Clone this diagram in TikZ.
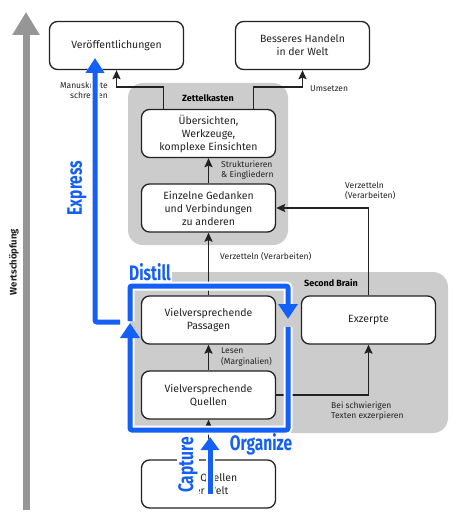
\documentclass[tikz,border=0pt]{standalone}
\usepackage{fontspec}
\setmainfont{Fira Sans}
\newfontfamily\narrowfont[FakeStretch=0.74]{Fira Sans}
\usetikzlibrary{arrows.meta}
\definecolor{pkmblue}{RGB}{20,95,245}
\definecolor{areagray}{RGB}{204,204,204}
\definecolor{valuegray}{RGB}{150,150,150}
\definecolor{ink}{RGB}{34,34,34}

\begin{document}
\begin{tikzpicture}[x=1pt,y=-1pt,
	box/.style={draw=ink,line width=1.3pt,fill=white,rounded corners=8pt,minimum width=134pt,minimum height=48pt,align=center,text=ink,font=\fontsize{10.5}{13}\selectfont,inner sep=2pt},
	area/.style={fill=areagray,rounded corners=15pt},
	flow/.style={ink,line width=1.8pt,-{Stealth[length=9pt,width=8pt,inset=1.5pt]}},
	lbl/.style={text=ink,font=\fontsize{8.5}{10.5}\selectfont,align=left,inner sep=0pt},
	arealbl/.style={text=black,font=\bfseries\fontsize{9}{10}\selectfont,inner sep=0pt},
	blueflow/.style={pkmblue,line width=5pt,rounded corners=2pt,preaction={draw=white,line width=9pt}},
	bluelbl/.style={text=pkmblue,font=\narrowfont\bfseries\fontsize{21}{24}\selectfont,inner sep=1pt}]

	\useasboundingbox (0,0) rectangle (474,526);

	\fill[area] (128,83) rectangle (288,245);
	\fill[area] (130,272) rectangle (448,433);
	\node[arealbl] (zk) at (208,98) {Zettelkasten};
	\node[arealbl] (sb) at (331,283) {Second Brain};

	\coordinate (vbot) at (26,510);
	\coordinate (vtop) at (26,12);
	\draw[valuegray,line width=7pt,-{Triangle[length=23pt,width=26pt]}] (vbot) -- (vtop);
	\node[rotate=90,text=ink,font=\bfseries\fontsize{9.5}{11}\selectfont] (ws) at (14,262) {Wertschöpfung};

	\node[box] (pub)   at (116.5,45.5) {Veröffentlichungen};
	\node[box] (act)   at (302.5,45.5) {Besseres Handeln\\in der Welt};
	\node[box] (over)  at (208.5,133.5) {Übersichten,\\Werkzeuge,\\komplexe Einsichten};
	\node[box] (ideas) at (208.5,208) {Einzelne Gedanken\\und Verbindungen\\zu anderen};
	\node[box] (pass)  at (208.5,320) {Vielversprechende\\Passagen};
	\node[box] (src)   at (208.5,395) {Vielversprechende\\Quellen};
	\node[box] (exc)   at (368.5,320) {Exzerpte};
	\node[box] (world) at (208.5,484) {Alle Quellen\\der Welt};

	\draw[flow] ([xshift=-45pt]over.north) -- ++(0,-22) -| (pub.south);
	\draw[flow] ([xshift=45pt]over.north) -- ++(0,-22) -| (act.south);
	\draw[flow] (ideas.north) -- (over.south);
	\draw[flow] (pass.north) -- (ideas.south);
	\draw[flow] (exc.north) |- (ideas.east);
	\draw[flow] (src.north) -- (pass.south);
	\draw[flow] (src.east) -| (exc.south);
	\draw[flow] (world.north) -- (src.south);

	\node[lbl,align=right,anchor=east] (l1) at (108,90) {Manuskripte\\schreiben};
	\node[lbl,anchor=west] (l2) at (310,89) {Umsetzen};
	\node[lbl,anchor=west] (l3) at (221,170) {Strukturieren\\\& Eingliedern};
	\node[lbl,anchor=west] (l4) at (345,191) {Verzetteln\\(Verarbeiten)};
	\node[lbl,anchor=west] (l5) at (220,257) {Verzetteln (Verarbeiten)};
	\node[lbl,anchor=west] (l6) at (221,357) {Lesen\\(Marginalien)};
	\node[lbl,anchor=west] (l7) at (331,411) {Bei schwierigen\\Texten exzerpieren};

	\coordinate (e0) at (120,322);
	\coordinate (e1) at (95,322);
	\coordinate (e2) at (95,58);
	\draw[blueflow,-{Triangle[length=15pt,width=18pt]}] (e0) -- (e1) -- (e2);

	\coordinate (o0) at (288,327);
	\coordinate (o1) at (288,430);
	\coordinate (o2) at (130,430);
	\coordinate (o3) at (130,323);
	\draw[blueflow,-{Triangle[length=15pt,width=19pt]}] (o0) -- (o1) -- (o2) -- (o3);

	\coordinate (d0) at (130,321);
	\coordinate (d1) at (130,286);
	\coordinate (d2) at (288,286);
	\coordinate (d3) at (288,319);
	\draw[blueflow,-{Triangle[length=15pt,width=19pt]}] (d0) -- (d1) -- (d2) -- (d3);

	\node[bluelbl,rotate=90,fill=white] (cap) at (188,465) {Capture};
	\coordinate (c0) at (210,494);
	\coordinate (c1) at (210,437);
	\draw[blueflow,-{Triangle[length=13pt,width=18pt]}] (c0) -- (c1);

	\node[bluelbl,rotate=90] (exl) at (77,188) {Express};
	\node[bluelbl,fill=white] (dis) at (150,272) {Distill};
	\node[bluelbl] (org) at (261,444) {Organize};

\end{tikzpicture}
\end{document}
